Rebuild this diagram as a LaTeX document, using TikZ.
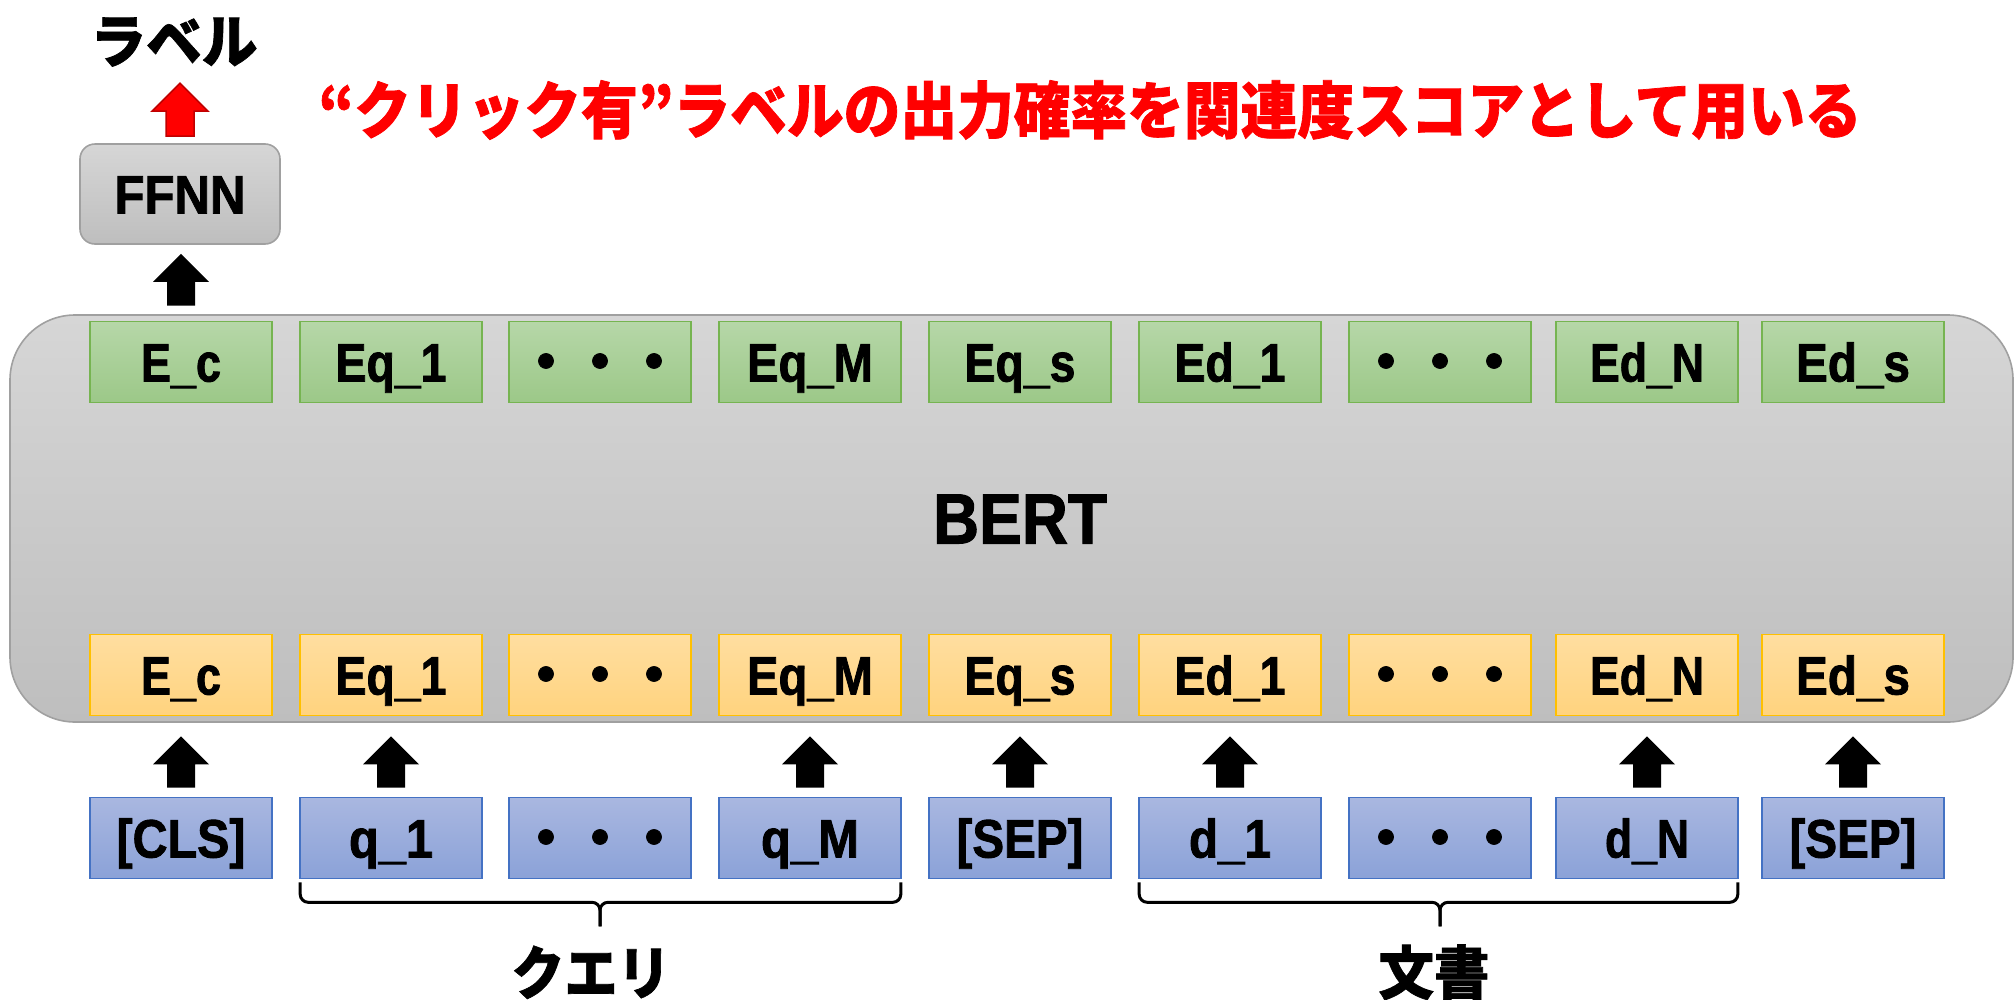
\documentclass[tikz,border=0pt]{standalone}
\usepackage{fontspec}
\usepackage{graphicx}
\setmainfont{Liberation Sans}[BoldFeatures={FakeBold=1.6}]
\newfontfamily\cjk{Noto Sans CJK JP}[BoldFeatures={FakeBold=1.2}]
\usetikzlibrary{calc}
\newcommand\fitw[2]{\resizebox{#1}{\height}{#2}}
\newcommand\blockup[3]{%
  \path[#1] let \p1=(#2), \p2=(#3) in
   (\x1-14pt,\y1) -- (\x1-14pt,\y2-28pt) -- (\x1-28pt,\y2-28pt) -- (\x1,\y2)
   -- (\x1+28pt,\y2-28pt) -- (\x1+14pt,\y2-28pt) -- (\x1+14pt,\y1) -- cycle;}
\definecolor{grnT}{HTML}{B6D7A8}\definecolor{grnD}{HTML}{9CC888}\definecolor{grnB}{HTML}{76B451}
\definecolor{ylwT}{HTML}{FFDEA0}\definecolor{ylwD}{HTML}{FFD37E}\definecolor{ylwB}{HTML}{FFC000}
\definecolor{bluT}{HTML}{A9B7E0}\definecolor{bluD}{HTML}{8BA2D8}\definecolor{bluB}{HTML}{4472C4}
\definecolor{gryT}{HTML}{D6D6D6}\definecolor{gryD}{HTML}{BEBEBE}\definecolor{gryB}{HTML}{A0A0A0}
\definecolor{redF}{HTML}{FF0000}\definecolor{redB}{HTML}{C00000}
\begin{document}
\begin{tikzpicture}[x=1pt,y=-1pt,
  tok/.style={draw, line width=1.6pt, minimum width=182pt, minimum height=81pt,
    inner sep=0pt, text height=39pt, text depth=0pt,
    font=\fontsize{54}{60}\selectfont\bfseries},
  outbox/.style={tok, draw=grnB, top color=grnT, bottom color=grnD},
  embbox/.style={tok, draw=ylwB, top color=ylwT, bottom color=ylwD},
  inbox/.style={tok, draw=bluB, top color=bluT, bottom color=bluD},
  jlabel/.style={inner sep=0pt, font=\cjk\bfseries\fontsize{58}{64}\selectfont},
  bracel/.style={draw=black, line width=3pt, rounded corners=8pt},
  blackarr/.style={fill=black},
  redarr/.style={fill=redF, draw=redB, line width=1.5pt, line join=miter}
]
\useasboundingbox (0,0) rectangle (2016,999);

% BERT block
\path[draw=gryB, line width=1.6pt, top color=gryT, bottom color=gryD, rounded corners=65pt]
  (10,315) rectangle (2013,722);
\node[inner sep=0pt, font=\fontsize{71}{80}\selectfont\bfseries] (bert) at (1020,519) {\fitw{174pt}{BERT}};

% output row (green)
\node[outbox] (g1) at (181,362) {\fitw{80pt}{E\_c}};
\node[outbox] (g2) at (391,362) {\fitw{111pt}{Eq\_1}};
\node[outbox] (g3) at (600,362) {{\cjk\bfseries ・・・}};
\node[outbox] (g4) at (810,362) {\fitw{126pt}{Eq\_M}};
\node[outbox] (g5) at (1020,362) {\fitw{111pt}{Eq\_s}};
\node[outbox] (g6) at (1230,362) {\fitw{111pt}{Ed\_1}};
\node[outbox] (g7) at (1440,362) {{\cjk\bfseries ・・・}};
\node[outbox] (g8) at (1647,362) {\fitw{114pt}{Ed\_N}};
\node[outbox] (g9) at (1853,362) {\fitw{114pt}{Ed\_s}};

% embedding row (yellow)
\node[embbox] (y1) at (181,675) {\fitw{80pt}{E\_c}};
\node[embbox] (y2) at (391,675) {\fitw{111pt}{Eq\_1}};
\node[embbox] (y3) at (600,675) {{\cjk\bfseries ・・・}};
\node[embbox] (y4) at (810,675) {\fitw{126pt}{Eq\_M}};
\node[embbox] (y5) at (1020,675) {\fitw{111pt}{Eq\_s}};
\node[embbox] (y6) at (1230,675) {\fitw{111pt}{Ed\_1}};
\node[embbox] (y7) at (1440,675) {{\cjk\bfseries ・・・}};
\node[embbox] (y8) at (1647,675) {\fitw{114pt}{Ed\_N}};
\node[embbox] (y9) at (1853,675) {\fitw{114pt}{Ed\_s}};

% input row (blue)
\node[inbox] (b1) at (181,838) {\fitw{129pt}{[CLS]}};
\node[inbox] (b2) at (391,838) {\fitw{84pt}{q\_1}};
\node[inbox] (b3) at (600,838) {{\cjk\bfseries ・・・}};
\node[inbox] (b4) at (810,838) {\fitw{98pt}{q\_M}};
\node[inbox] (b5) at (1020,838) {\fitw{127pt}{[SEP]}};
\node[inbox] (b6) at (1230,838) {\fitw{82pt}{d\_1}};
\node[inbox] (b7) at (1440,838) {{\cjk\bfseries ・・・}};
\node[inbox] (b8) at (1647,838) {\fitw{84pt}{d\_N}};
\node[inbox] (b9) at (1853,838) {\fitw{127pt}{[SEP]}};

% FFNN and output label
\node[draw=gryB, line width=1.6pt, top color=gryT, bottom color=gryD, rounded corners=15pt,
  minimum width=200pt, minimum height=100pt, inner sep=0pt, text height=39pt, text depth=0pt,
  font=\fontsize{54}{60}\selectfont\bfseries] (ffnn) at (180,194) {\fitw{131pt}{FFNN}};
\node[jlabel] (lab) at (174,42) {\fitw{167pt}{ラベル}};
\node[inner sep=0pt, text=redF, font=\cjk\bfseries\fontsize{62}{70}\selectfont] (note) at (1090,110)
  {\fitw{1543pt}{“クリック有”ラベルの出力確率を関連度スコアとして用いる}};

% arrows
\blockup{redarr}{$(ffnn.north)+(0,-7)$}{$(ffnn.north)+(0,-60)$}
\blockup{blackarr}{$(g1.north)+(0,-15)$}{$(ffnn.south)+(0,9)$}
\foreach \i in {1,2,4,5,6,8,9}{
  \blockup{blackarr}{$(b\i.north)+(0,-9)$}{$(y\i.south)+(0,20)$}
}

% braces
\draw[bracel] ($(b2.south west)+(1,3)$) |- ($(b3.south)+(0,23)$) -- ($(b3.south)+(0,47)$);
\draw[bracel] ($(b4.south east)+(-1,3)$) |- ($(b3.south)+(0,23)$) -- ($(b3.south)+(0,47)$);
\draw[bracel] ($(b6.south west)+(1,3)$) |- ($(b7.south)+(0,23)$) -- ($(b7.south)+(0,47)$);
\draw[bracel] ($(b8.south east)+(-1,3)$) |- ($(b7.south)+(0,23)$) -- ($(b7.south)+(0,47)$);
\node[jlabel] (qlab) at ($(b3.south)+(-9,93)$) {\fitw{159pt}{クエリ}};
\node[jlabel] (dlab) at ($(b7.south)+(-6,93)$) {\fitw{111pt}{文書}};
\end{tikzpicture}
\end{document}
